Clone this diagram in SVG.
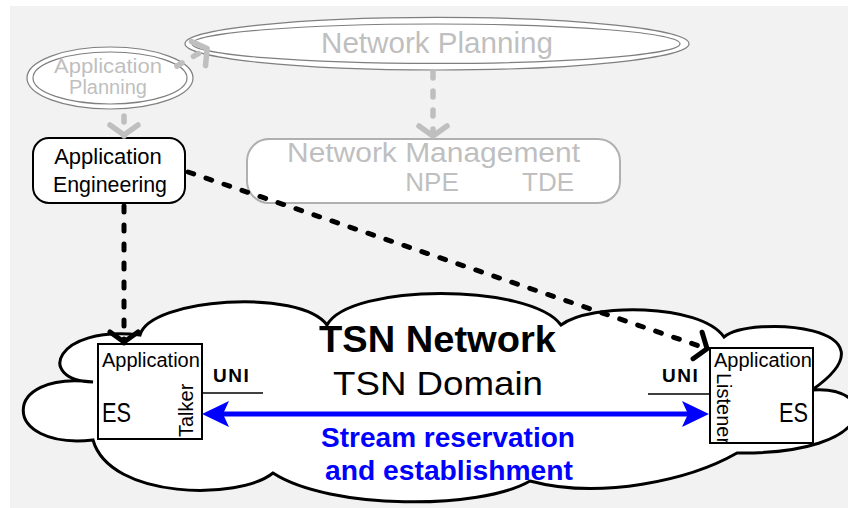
<svg xmlns="http://www.w3.org/2000/svg" width="848" height="508" viewBox="0 0 848 508">
<style>
  text { font-family: "Liberation Sans", Arial, sans-serif; }
  .gtxt { fill: #bfbfbf; }
  .btxt { fill: #000000; }
  .dbl { fill: #ffffff; stroke: #7f7f7f; stroke-width: 1.2; }
  .dblin { fill: none; stroke: #7f7f7f; stroke-width: 1.2; }
  .es { fill: #ffffff; stroke: #000000; stroke-width: 2; }
  .dashK { fill: none; stroke: #000000; stroke-width: 5; stroke-dasharray: 6 13; stroke-linecap: round; }
  .dashG { fill: none; stroke: #bfbfbf; stroke-width: 5.5; stroke-dasharray: 6 13; stroke-linecap: round; }
  .uni { fill: none; stroke: #000000; stroke-width: 1.6; }
  .unit { font-weight: bold; font-size: 19px; letter-spacing: 1.5px; }
  .blue { fill: #0000ff; font-weight: bold; font-size: 27px; }
</style>
<defs>
  <marker id="chevK" viewBox="-20 -20 24 40" refX="0" refY="0" markerWidth="24" markerHeight="40" markerUnits="userSpaceOnUse" orient="auto">
    <path d="M-11,-14 L-1,0 L-11,14" fill="none" stroke="#000000" stroke-width="5" stroke-linecap="round" stroke-linejoin="round"/>
  </marker>
  <marker id="chevG" viewBox="-20 -20 24 40" refX="0" refY="0" markerWidth="24" markerHeight="40" markerUnits="userSpaceOnUse" orient="auto">
    <path d="M-11,-14 L-1,0 L-11,14" fill="none" stroke="#bfbfbf" stroke-width="5.5" stroke-linecap="round" stroke-linejoin="round"/>
  </marker>
  <marker id="blueHead" viewBox="0 0 27 26" refX="21" refY="13" markerWidth="27" markerHeight="26" markerUnits="userSpaceOnUse" orient="auto-start-reverse">
    <path d="M0,0 L27,13 L0,26 L6,13 Z" fill="#0000ff"/>
  </marker>
</defs>

<rect x="10" y="6" width="838" height="502" fill="#f2f2f2"/>

<g id="tsn-network">
  <path d="M93,382 C35,380 55,325 140,335 C150,298 300,288 327,325 C350,283 530,283 561,325 C590,303 700,303 724,337 C750,315 905,325 812,390 C880,385 880,455 737,453 C690,480 600,500 530,481 C480,510 330,510 273,473 C240,500 110,500 93,440 C0,450 0,370 93,382 Z" fill="#ffffff" stroke="#000000" stroke-width="3" stroke-linejoin="miter"/>
  <text x="437.5" y="352" text-anchor="middle" font-size="36" font-weight="bold" textLength="237" lengthAdjust="spacingAndGlyphs">TSN Network</text>
  <text x="438" y="395" text-anchor="middle" font-size="33" textLength="210" lengthAdjust="spacingAndGlyphs">TSN Domain</text>
</g>

<g id="application-planning">
  <ellipse class="dbl" cx="110" cy="78" rx="83" ry="31"/>
  <ellipse class="dblin" cx="110" cy="78" rx="77" ry="26"/>
  <text class="gtxt" x="108" y="73" text-anchor="middle" font-size="20" textLength="108" lengthAdjust="spacingAndGlyphs">Application</text>
  <text class="gtxt" x="108" y="94" text-anchor="middle" font-size="20">Planning</text>
</g>

<g id="network-planning">
  <ellipse class="dbl" cx="437" cy="43.7" rx="252" ry="26.3"/>
  <ellipse class="dblin" cx="436" cy="43.7" rx="244" ry="19.7"/>
  <text class="gtxt" x="437" y="53" text-anchor="middle" font-size="29" textLength="232" lengthAdjust="spacingAndGlyphs">Network Planning</text>
</g>

<g id="network-management">
  <rect x="247" y="139" width="373" height="64" rx="22" ry="22" fill="#ffffff" stroke="#b0b0b0" stroke-width="2"/>
  <text class="gtxt" x="433.5" y="162" text-anchor="middle" font-size="27" textLength="293" lengthAdjust="spacingAndGlyphs">Network Management</text>
  <text class="gtxt" x="432" y="191" text-anchor="middle" font-size="26">NPE</text>
  <text class="gtxt" x="548" y="191" text-anchor="middle" font-size="26">TDE</text>
</g>

<g id="application-engineering">
  <rect x="33" y="138" width="152" height="65" rx="16" ry="16" fill="#ffffff" stroke="#000000" stroke-width="2"/>
  <text class="btxt" x="108" y="164" text-anchor="middle" font-size="22">Application</text>
  <text class="btxt" x="110" y="192" text-anchor="middle" font-size="22" textLength="114" lengthAdjust="spacingAndGlyphs">Engineering</text>
</g>

<g id="talker-es">
  <rect class="es" x="98" y="344" width="104" height="95"/>
  <text class="btxt" x="102" y="367" font-size="20">Application</text>
  <text class="btxt" x="102" y="422" font-size="27" textLength="29" lengthAdjust="spacingAndGlyphs">ES</text>
  <text class="btxt" transform="translate(193,437) rotate(-90)" font-size="20">Talker</text>
</g>

<g id="listener-es">
  <rect class="es" x="710" y="348" width="103" height="95"/>
  <text class="btxt" x="714" y="367" font-size="20">Application</text>
  <text class="btxt" x="779" y="422" font-size="27" textLength="29" lengthAdjust="spacingAndGlyphs">ES</text>
  <text class="btxt" transform="translate(717,373) rotate(90)" font-size="20">Listener</text>
</g>

<g id="connectors">
  <path class="dashG" d="M177,66 L208,48" marker-end="url(#chevG)"/>
  <path class="dashG" d="M124,116 L124,136" marker-end="url(#chevG)"/>
  <path class="dashG" d="M433,72 L433,137" marker-end="url(#chevG)"/>
  <path class="dashK" d="M124,206 L124,343" marker-end="url(#chevK)"/>
  <path class="dashK" d="M188,172 L708,349" marker-end="url(#chevK)"/>
  <path class="uni" d="M202,393 H263"/>
  <path class="uni" d="M648,394 H710"/>
  <text class="btxt unit" x="213" y="382">UNI</text>
  <text class="btxt unit" x="662" y="382">UNI</text>
  <path d="M208,414 L703,414" stroke="#0000ff" stroke-width="5" fill="none" marker-start="url(#blueHead)" marker-end="url(#blueHead)"/>
  <text class="blue" x="448" y="447" text-anchor="middle" textLength="254" lengthAdjust="spacingAndGlyphs">Stream reservation</text>
  <text class="blue" x="449" y="480" text-anchor="middle" textLength="248" lengthAdjust="spacingAndGlyphs">and establishment</text>
</g>
</svg>
